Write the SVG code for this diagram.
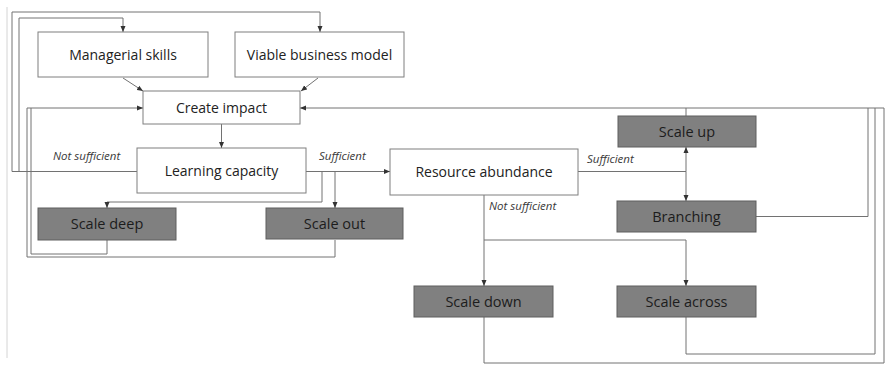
<svg xmlns="http://www.w3.org/2000/svg" width="887" height="371" viewBox="0 0 887 371">
<style>
.box{fill:#ffffff;stroke:#7f7f7f;stroke-width:1}
.gbox{fill:#808080;stroke:#5e5e5e;stroke-width:1}
.t{font-family:"Open Sans","Liberation Sans",sans-serif;font-size:14px;fill:#222222;text-anchor:middle}
.gt{font-family:"Open Sans","Liberation Sans",sans-serif;font-size:14.5px;fill:#1c1c1c;text-anchor:middle}
.lbl{font-family:"Open Sans","Liberation Sans",sans-serif;font-size:11.5px;font-style:italic;fill:#3a3a3a}
.c{fill:none;stroke:#727272;stroke-width:1}
</style>
<defs>
<marker id="ah" markerUnits="userSpaceOnUse" markerWidth="6" markerHeight="6" viewBox="0 0 6 6" refX="6" refY="3" orient="auto">
<path d="M0,0.5 L6,3 L0,5.5 Z" fill="#333333"/>
</marker>
</defs>
<rect width="887" height="371" fill="#ffffff"/>
<line x1="7" y1="7" x2="7" y2="358" stroke="#d4d4d4" stroke-width="1"/>
<g id="connectors">
<path class="c" d="M123,78 L143,91" marker-end="url(#ah)"/>
<path class="c" d="M318,78 L301,91" marker-end="url(#ah)"/>
<path class="c" d="M221.5,124 V148" marker-end="url(#ah)"/>
<path class="c" d="M306,171.5 H390" marker-end="url(#ah)"/>
<path class="c" d="M137,171.5 H12 V12 H320 V32" marker-end="url(#ah)"/>
<path class="c" d="M19,171.5 V18 H123 V32" marker-end="url(#ah)"/>
<path class="c" d="M322,171.5 V202 H107 V208" marker-end="url(#ah)"/>
<path class="c" d="M335,171.5 V208" marker-end="url(#ah)"/>
<path class="c" d="M107,240 V254 H31 V108"/>
<path class="c" d="M335,240 V257 H27 V108 H143" marker-end="url(#ah)"/>
<path class="c" d="M578,171.5 H686 V147" marker-end="url(#ah)"/>
<path class="c" d="M686,171.5 V201" marker-end="url(#ah)"/>
<path class="c" d="M686,116 V108"/>
<path class="c" d="M884,108 H300" marker-end="url(#ah)"/>
<path class="c" d="M756,216.5 H868 V108"/>
<path class="c" d="M686,317 V354 H875 V108"/>
<path class="c" d="M484,317 V363 H884 V108"/>
<path class="c" d="M484,195 V286" marker-end="url(#ah)"/>
<path class="c" d="M484,240 H686 V286" marker-end="url(#ah)"/>
</g>
<g id="managerial-skills"><rect class="box" x="38" y="32" width="170" height="45"/><text class="t" x="123" y="59.5">Managerial skills</text></g>
<g id="viable-business-model"><rect class="box" x="235" y="32" width="169" height="45"/><text class="t" x="319.5" y="59.5">Viable business model</text></g>
<g id="create-impact"><rect class="box" x="143" y="91" width="157" height="33"/><text class="t" x="221.5" y="112.5">Create impact</text></g>
<g id="learning-capacity"><rect class="box" x="137" y="148" width="169" height="45"/><text class="t" x="221.5" y="175.5">Learning capacity</text></g>
<g id="resource-abundance"><rect class="box" x="390" y="149" width="188" height="46"/><text class="t" x="484" y="177">Resource abundance</text></g>
<g id="scale-deep"><rect class="gbox" x="38" y="208" width="138" height="32"/><text class="gt" x="107" y="229">Scale deep</text></g>
<g id="scale-out"><rect class="gbox" x="266" y="208" width="137" height="31"/><text class="gt" x="334.5" y="228.5">Scale out</text></g>
<g id="scale-up"><rect class="gbox" x="618" y="116" width="138" height="31"/><text class="gt" x="687" y="136.5">Scale up</text></g>
<g id="branching"><rect class="gbox" x="617" y="201" width="139" height="31"/><text class="gt" x="686.5" y="221.5">Branching</text></g>
<g id="scale-down"><rect class="gbox" x="414" y="286" width="139" height="31"/><text class="gt" x="483.5" y="306.5">Scale down</text></g>
<g id="scale-across"><rect class="gbox" x="617" y="286" width="139" height="31"/><text class="gt" x="686.5" y="306.5">Scale across</text></g>
<g id="labels">
<text class="lbl" x="53" y="160">Not sufficient</text>
<text class="lbl" x="319" y="160">Sufficient</text>
<text class="lbl" x="587" y="163">Sufficient</text>
<text class="lbl" x="489" y="210">Not sufficient</text>
</g>
</svg>
